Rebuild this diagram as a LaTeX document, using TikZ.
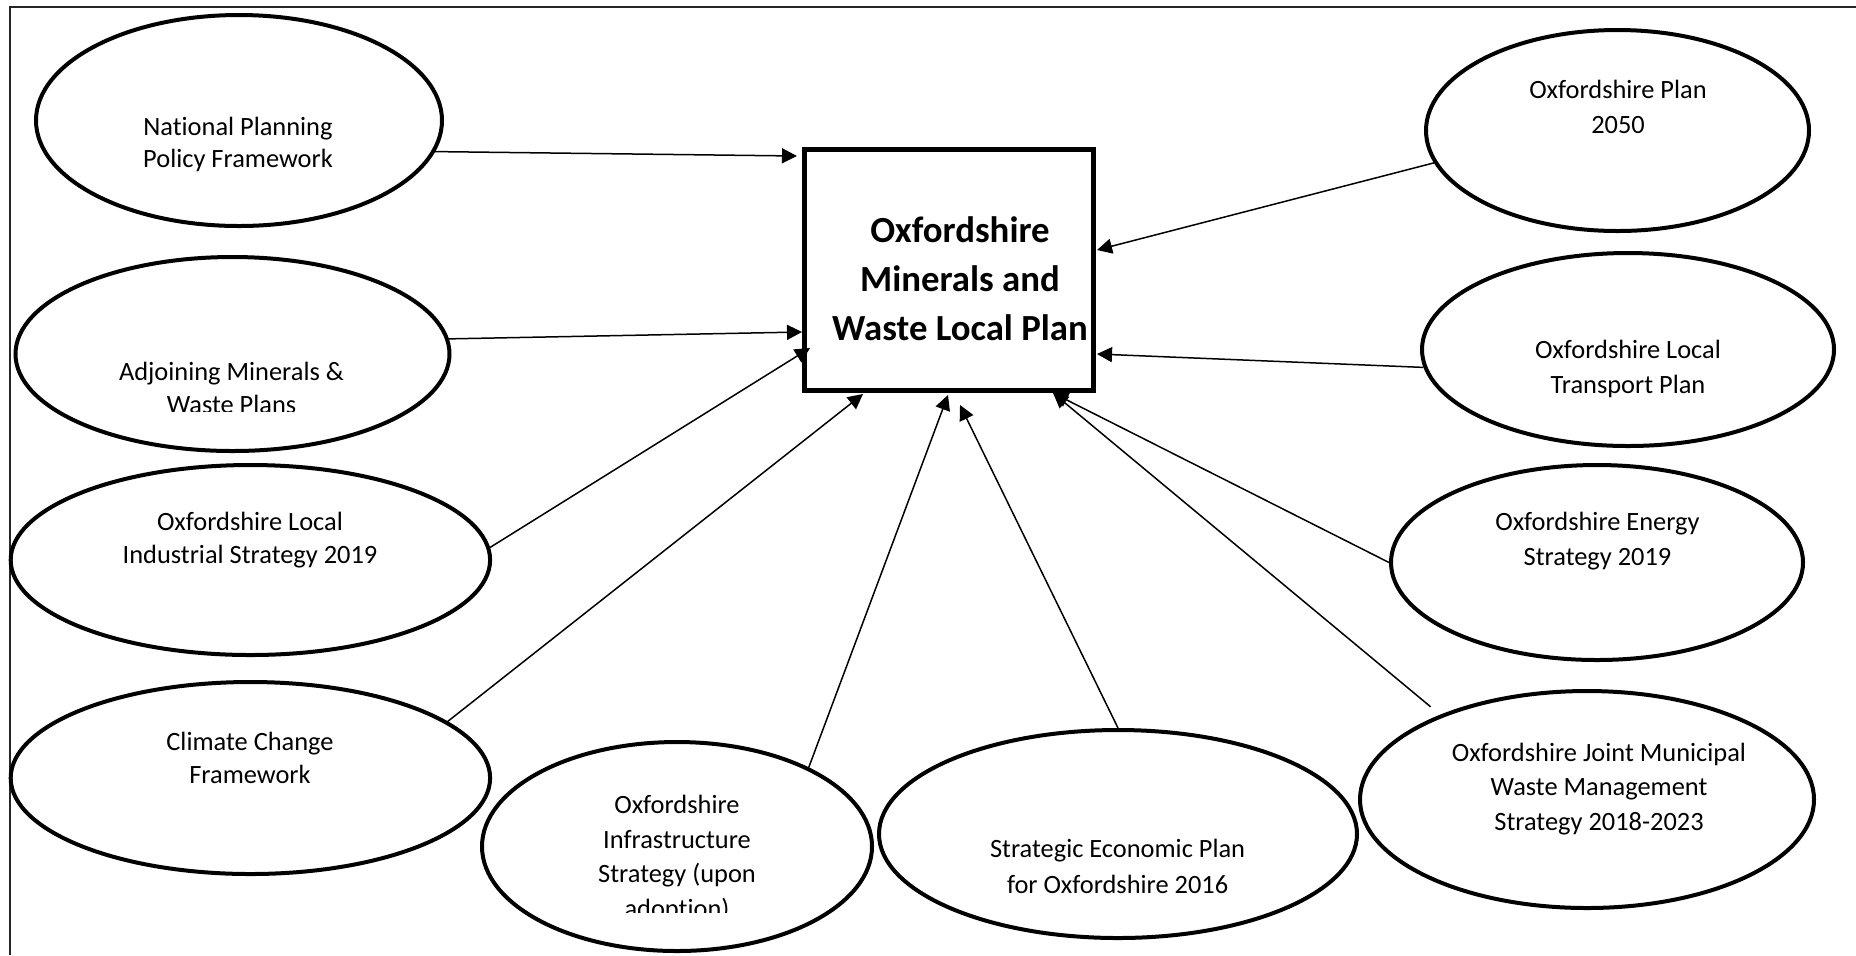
\documentclass[tikz,border=0pt]{standalone}
\usepackage{fontspec}
\setmainfont{Carlito}[Ligatures=NoCommon]
\usetikzlibrary{shapes.geometric,arrows.meta}
\begin{document}
\begin{tikzpicture}[x=0.5pt,y=-0.5pt,
  ell/.style={ellipse, draw, line width=2pt, inner sep=0pt},
  mainbox/.style={rectangle, draw, line width=2.5pt, inner sep=0pt},
  lbl/.style={anchor=base, align=center, inner sep=0pt, font=\fontsize{13.2}{17}\selectfont},
  ttl/.style={anchor=base, align=center, inner sep=0pt, font=\bfseries\fontsize{18.4}{24.5}\selectfont},
  arr/.style={line width=0.75pt, -{Triangle[length=7.5pt,width=7.5pt]}},
  frame/.style={line width=1pt, black!85}]
\useasboundingbox (0,0) rectangle (1856,955);
\draw[frame] (10,955) -- (10,7) -- (1856,7);

% central box
\node[mainbox, minimum width=144.5pt, minimum height=120.5pt] (box) at (949,270) {};
\node[ttl] (boxt) at (960,340) {Oxfordshire\\Minerals and\\Waste Local Plan};

% ellipses
\node[ell, minimum width=203pt, minimum height=105.5pt] (nppf) at (239,120.5) {};
\node[ell, minimum width=217pt, minimum height=97pt] (adj) at (232.5,354) {};
\node[ell, minimum width=239.7pt, minimum height=95pt] (ind) at (250.4,560) {};
\node[ell, minimum width=239.7pt, minimum height=96pt] (cli) at (250.4,778) {};
\node[ell, minimum width=195pt, minimum height=104.5pt] (inf) at (677,846.5) {};
\node[ell, minimum width=239pt, minimum height=104pt] (str) at (1118,834) {};
\node[ell, minimum width=227pt, minimum height=108.5pt] (jm) at (1587,799.5) {};
\node[ell, minimum width=206pt, minimum height=97.5pt] (ene) at (1597,562.5) {};
\node[ell, minimum width=206pt, minimum height=96.5pt] (tra) at (1628,349.5) {};
\node[ell, minimum width=191.5pt, minimum height=100.5pt] (p50) at (1617.5,130.5) {};

% labels (anchor = baseline of last line)
\node[lbl, font=\fontsize{13.2}{16}\selectfont] (nppft) at (238,167) {National Planning\\Policy Framework};
\begin{scope}
\clip (0,0) rectangle (1856,411);
\node[lbl, font=\fontsize{13.2}{16.5}\selectfont] (adjt) at (231.5,413) {Adjoining Minerals \&\\Waste Plans};
\end{scope}
\node[lbl, font=\fontsize{13.2}{16.5}\selectfont] (indt) at (250,563) {Oxfordshire Local\\Industrial Strategy 2019};
\node[lbl, font=\fontsize{13.2}{16.5}\selectfont] (clit) at (250,783) {Climate Change\\Framework};
\begin{scope}
\clip (0,0) rectangle (1856,912);
\node[lbl, font=\fontsize{13.2}{17.25}\selectfont] (inft) at (677,917) {Oxfordshire\\Infrastructure\\Strategy (upon\\adoption)};
\end{scope}
\node[lbl, font=\fontsize{13.2}{18}\selectfont] (strt) at (1117.6,893) {Strategic Economic Plan\\for Oxfordshire 2016};
\node[lbl, font=\fontsize{13.2}{17.25}\selectfont] (jmt) at (1599,830) {Oxfordshire Joint Municipal\\Waste Management\\Strategy 2018-2023};
\node[lbl, font=\fontsize{13.2}{17.5}\selectfont] (enet) at (1597.5,565) {Oxfordshire Energy\\Strategy 2019};
\node[lbl, font=\fontsize{13.2}{17.5}\selectfont] (trat) at (1628,393) {Oxfordshire Local\\Transport Plan};
\node[lbl, font=\fontsize{13.2}{17.5}\selectfont] (p50t) at (1618,133) {Oxfordshire Plan\\2050};

% arrow tips
\coordinate (tnppf) at (797,156);
\coordinate (tadj) at (802,332);
\coordinate (tind) at (810,348);
\coordinate (tcli) at (863,394);
\coordinate (tinf) at (948,395);
\coordinate (tstr) at (960,405);
\coordinate (tjm) at (1053,393);
\coordinate (ttra) at (1097,354);
\coordinate (tp50) at (1097,250);

% connectors
\draw[arr] (nppf.-9.74) -- (tnppf);
\draw[arr] (adj.4.44) -- (tadj);
\draw[arr] (ind.3.58) -- (tind);
\draw[arr] (cli.16.65) -- (tcli);
\draw[arr] (inf.31.33) -- (tinf);
\draw[arr] (str.north) -- (tstr);
\draw[arr, shorten <=6.25pt] (jm.150.96) -- (tjm);
\draw[arr] (ene.west) -- (tjm);
\draw[arr] (tra.185.37) -- (ttra);
\draw[arr] (p50.190.75) -- (tp50);
\end{tikzpicture}
\end{document}
